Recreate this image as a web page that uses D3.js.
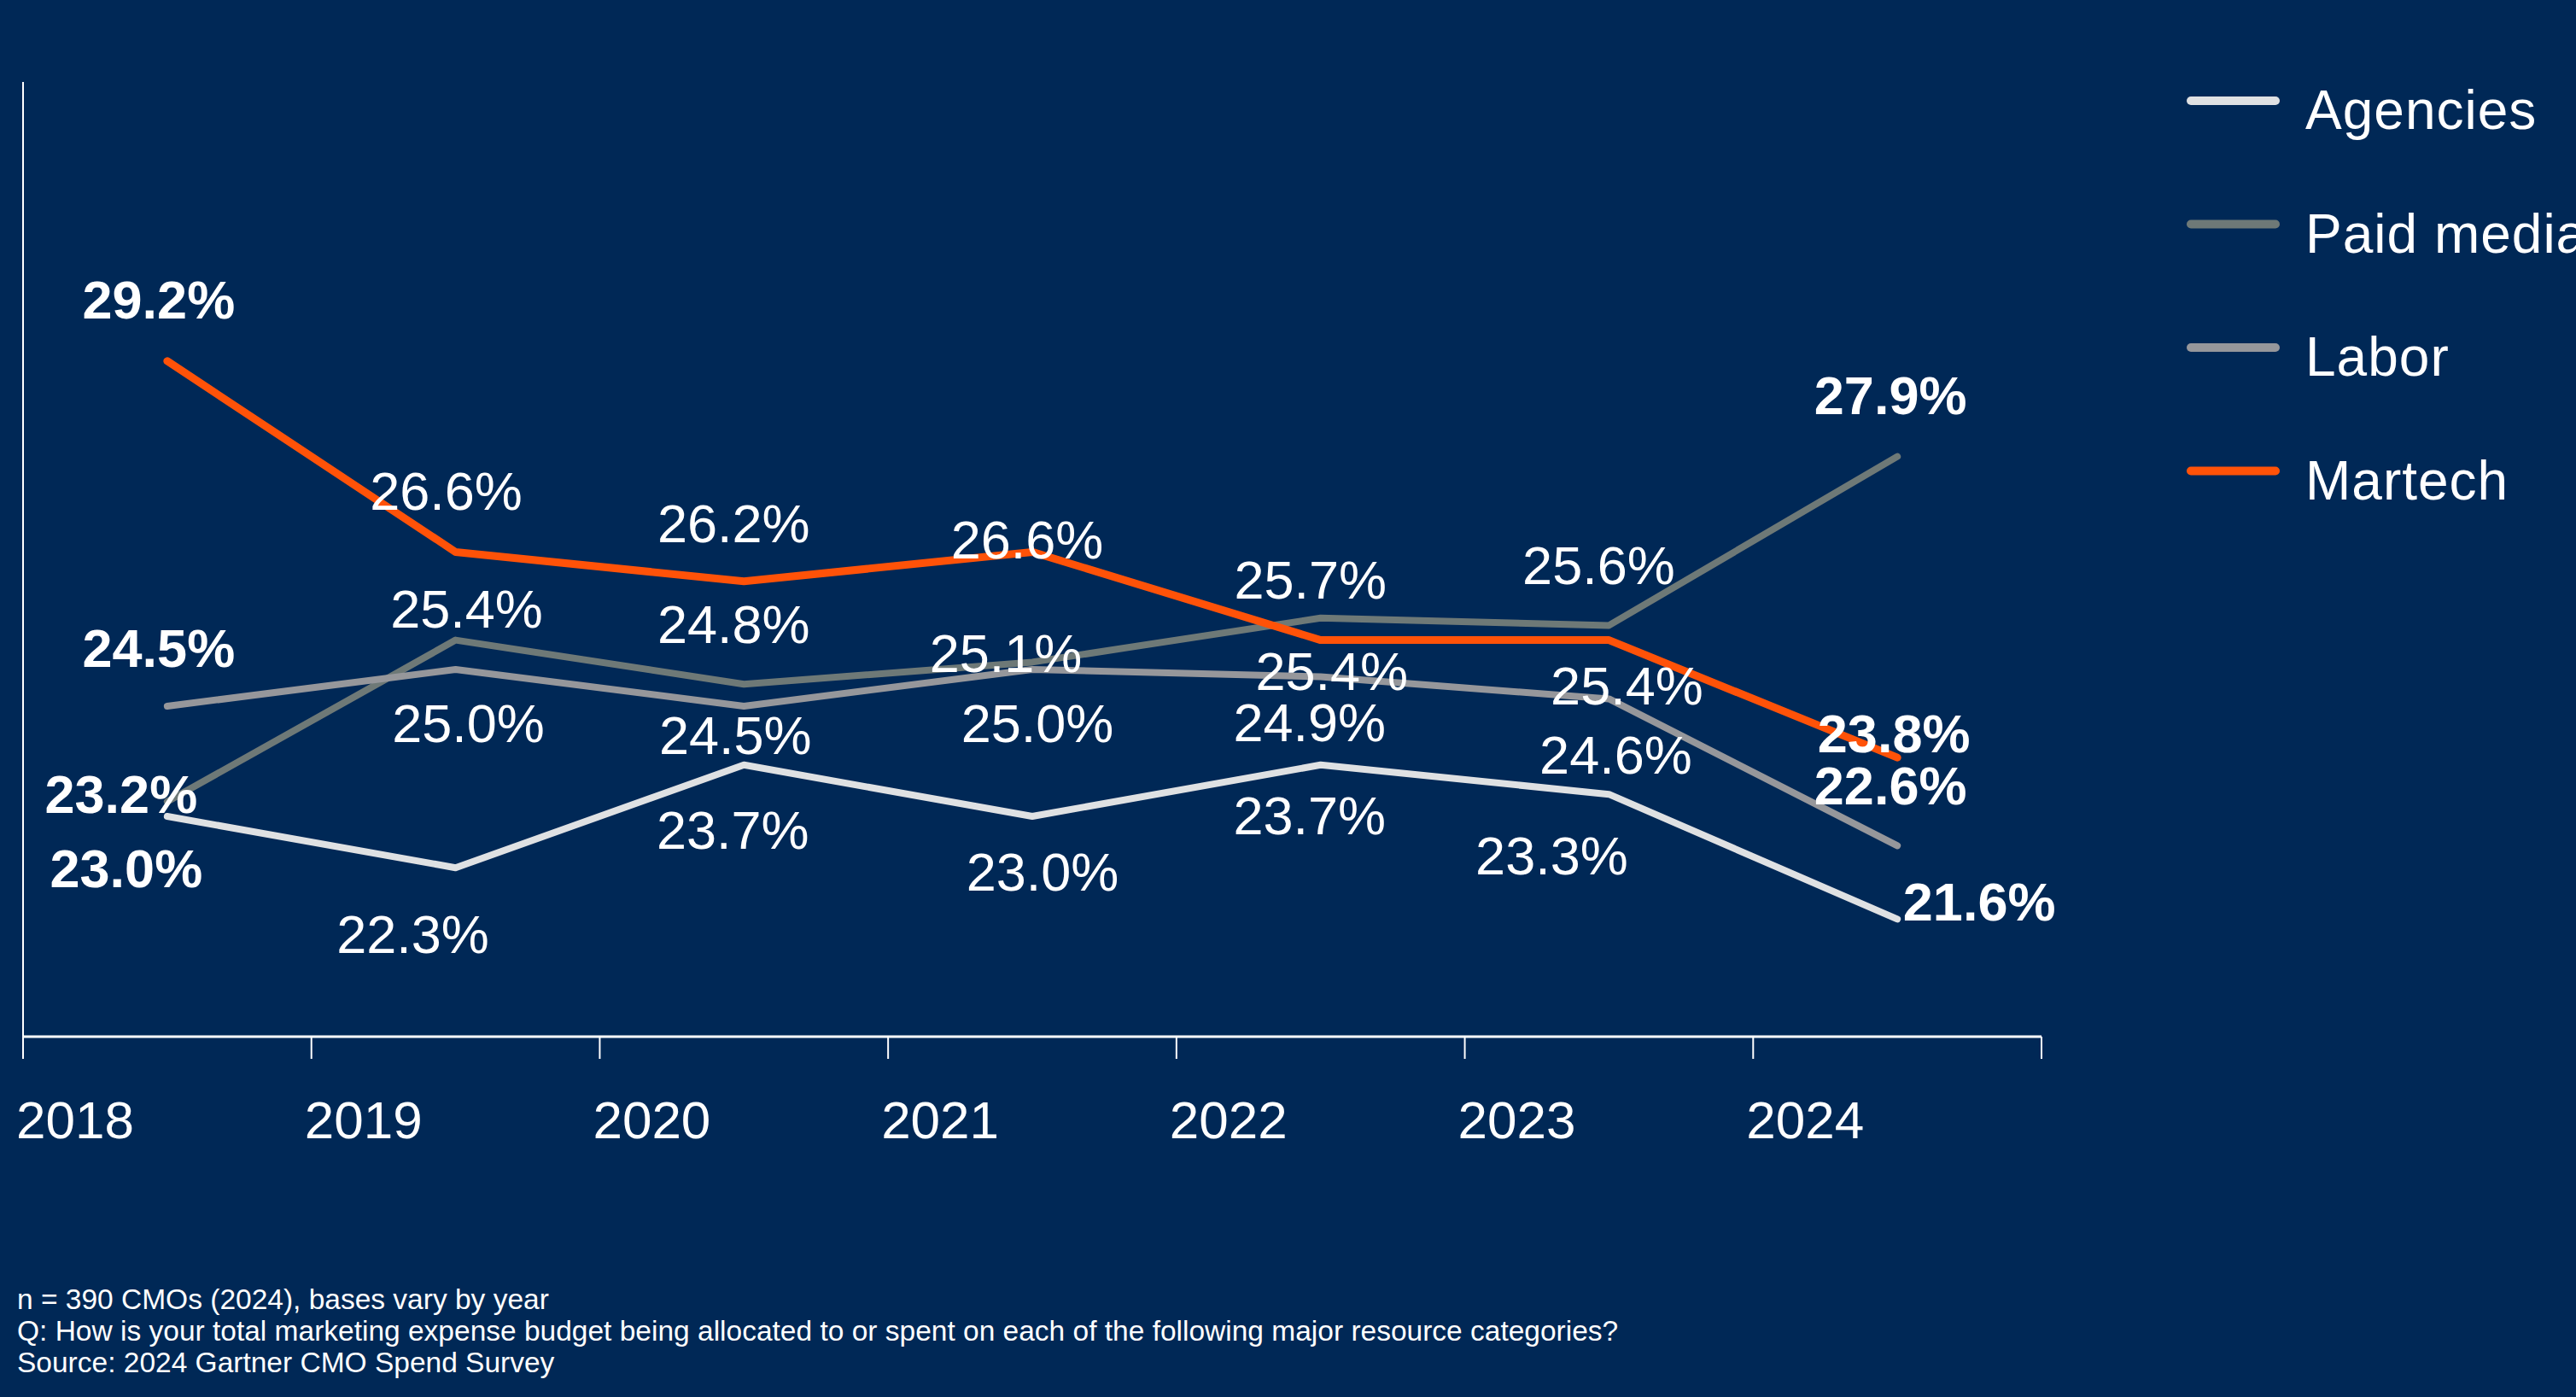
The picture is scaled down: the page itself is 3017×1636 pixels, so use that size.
<!DOCTYPE html>
<html>
<head>
<meta charset="utf-8">
<script src="https://cdn.jsdelivr.net/npm/d3@7"></script>
<style>
    html, body { margin: 0; padding: 0; background: #002856; }
    svg { display: block; font-family: "Liberation Sans", Arial, sans-serif; }
</style>
</head>
<body>
<svg id="chart"></svg>
<script>
// Share of marketing budget by resource category (%), 2018-2024
const years = ['2018', '2019', '2020', '2021', '2022', '2023', '2024'];
const seriesNames = ['Agencies', 'Paid media', 'Labor', 'Martech'];
const agencies = [23.0, 22.3, 23.7, 23.0, 23.7, 23.3, 21.6];
const paidMedia = [23.2, 25.4, 24.8, 25.1, 25.7, 25.6, 27.9];
const labor = [24.5, 25.0, 24.5, 25.0, 24.9, 24.6, 22.6];
const martech = [29.2, 26.6, 26.2, 26.6, 25.4, 25.4, 23.8];
const footnotes = [
    'n = 390 CMOs (2024), bases vary by year',
    'Q: How is your total marketing expense budget being allocated to or spent on each of the following major resource categories?',
    'Source: 2024 Gartner CMO Spend Survey',
];

const width = 3017;
const height = 1636;
const colors = {
    Agencies: '#dfe1e3',
    'Paid media': '#6e7977',
    Labor: '#96979b',
    Martech: '#ff5208',
};
const strokeWidths = { Agencies: 8, 'Paid media': 8, Labor: 8, Martech: 9 };

// label nudges (px) relative to each point, one per year
const labelOffsets = {
    Agencies: [[-48, 83], [-50, 100], [-13, 98], [12, 87], [-13, 81], [-67, 94], [96, 2]],
    'Paid media': [[-54, 13], [13, -15], [-12, -48], [-31, 12], [-12, -23], [-12, -48], [-8, -50]],
    Labor: [[-10, -46], [15, 85], [-10, 56], [6, 85], [-13, 75], [8, 88], [-8, -48]],
    Martech: [[-10, -50], [-11, -49], [-12, -46], [-6, 8], [13, 58], [21, 75], [-4, -6]],
};

const series = [
    { name: 'Agencies', values: agencies },
    { name: 'Paid media', values: paidMedia },
    { name: 'Labor', values: labor },
    { name: 'Martech', values: martech },
];

const svg = d3.select('#chart')
    .attr('width', width)
    .attr('height', height);

svg.append('rect')
    .attr('width', width)
    .attr('height', height)
    .attr('fill', '#002856');

const x = d3.scaleBand()
    .domain(years)
    .range([27, 2391]);

const y = d3.scaleLinear()
    .domain([20, 33])
    .range([1214, 96]);

const cx = d => x(d) + x.bandwidth() / 2;

// axes
const axis = svg.append('g').attr('class', 'axis');
axis.append('line')
    .attr('x1', 27).attr('x2', 27)
    .attr('y1', y(33)).attr('y2', y(20))
    .attr('stroke', '#fff')
    .attr('stroke-width', 2);
axis.append('line')
    .attr('x1', x.range()[0]).attr('x2', x.range()[1])
    .attr('y1', y(20)).attr('y2', y(20))
    .attr('stroke', '#fff')
    .attr('stroke-width', 3);

const edges = years.map(d => x(d)).concat([x.range()[1]]);
axis.selectAll('.tick')
    .data(edges)
    .enter()
    .append('line')
    .attr('class', 'tick')
    .attr('x1', d => d).attr('x2', d => d)
    .attr('y1', y(20)).attr('y2', y(20) + 26)
    .attr('stroke', '#fff')
    .attr('stroke-width', 2);

axis.selectAll('.year')
    .data(years)
    .enter()
    .append('text')
    .attr('class', 'year')
    .attr('x', d => x(d) - 8)
    .attr('y', 1333)
    .attr('fill', '#fff')
    .attr('font-size', 62)
    .text(d => d);

// lines
const line = d3.line()
    .x((d, i) => cx(years[i]))
    .y(d => y(d));

svg.append('g').selectAll('.series')
    .data(series)
    .enter()
    .append('path')
    .attr('class', 'series')
    .attr('d', d => line(d.values))
    .attr('fill', 'none')
    .attr('stroke', d => colors[d.name])
    .attr('stroke-width', d => strokeWidths[d.name])
    .attr('stroke-linecap', 'round')
    .attr('stroke-linejoin', 'round');

// value labels
const labels = [];
series.forEach((s) => {
    s.values.forEach((v, i) => {
        labels.push({
            name: s.name, year: years[i], value: v, i,
            dx: labelOffsets[s.name][i][0],
            dy: labelOffsets[s.name][i][1],
        });
    });
});

svg.append('g').selectAll('.label')
    .data(labels)
    .enter()
    .append('text')
    .attr('class', 'label')
    .attr('x', d => cx(d.year) + d.dx)
    .attr('y', d => y(d.value) + d.dy)
    .attr('text-anchor', 'middle')
    .attr('fill', '#fff')
    .attr('font-size', 63)
    .attr('font-weight', d => (d.i === 0 || d.i === years.length - 1 ? 'bold' : 'normal'))
    .text(d => `${d.value.toFixed(1)}%`);

// legend
const legend = svg.append('g')
    .attr('transform', 'translate(2561,118)');

const item = legend.selectAll('.item')
    .data(seriesNames)
    .enter()
    .append('g')
    .attr('class', 'item')
    .attr('transform', (d, i) => `translate(0,${i * 144.5})`);

item.append('line')
    .attr('x1', 5).attr('x2', 104)
    .attr('stroke', d => colors[d])
    .attr('stroke-width', 10)
    .attr('stroke-linecap', 'round');

item.append('text')
    .attr('x', 139)
    .attr('y', 33)
    .attr('fill', '#fff')
    .attr('font-size', 64)
    .attr('letter-spacing', 1)
    .text(d => d);

// footnotes
svg.append('g').selectAll('.note')
    .data(footnotes)
    .enter()
    .append('text')
    .attr('class', 'note')
    .attr('x', 20)
    .attr('y', (d, i) => 1533 + i * 37)
    .attr('fill', '#fff')
    .attr('font-size', 33.5)
    .text(d => d);
</script>
</body>
</html>
